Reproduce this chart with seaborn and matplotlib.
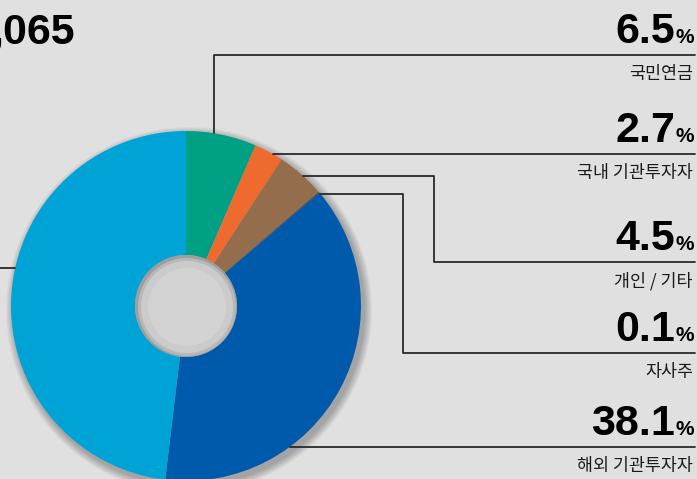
import numpy as np
import matplotlib
matplotlib.use("Agg")
import matplotlib.pyplot as plt
import seaborn as sns
from matplotlib.patches import Circle

# --- data ---
holders = ["국민연금", "국내 기관투자자", "개인 / 기타", "자사주", "해외 기관투자자", "기타(좌측)"]
shares = [6.5, 2.7, 4.5, 0.1, 38.1, 48.1]
labelled = ["6.5", "2.7", "4.5", "0.1", "38.1"]
colors = ["#00a085", "#ee6a2e", "#946d4c", "#4a3e38", "#005aab", "#00a3d5"]
top_text = ",065"

sns.set_theme(style="white")
plt.rcParams["font.family"] = ["Noto Sans CJK KR", "DejaVu Sans"]
num_font = ["Liberation Sans", "DejaVu Sans"]

W, H = 697, 479
bg = "#e0e0e0"
fig = plt.figure(figsize=(W / 100, H / 100), dpi=100, facecolor=bg)
ax = fig.add_axes([0, 0, 1, 1])

def py(y):
    # pixel row (from top) -> data y
    return H - y

cx, cy, R, r_hole = 186, 306, 175, 51

# soft shadow behind the pie
for i in range(8):
    ax.add_patch(Circle((cx + 3, py(cy + 4)), R + 1 + i, color="black",
                        alpha=0.035, lw=0, zorder=1))

ax.pie(shares, colors=colors, startangle=90, counterclock=False,
       center=(cx, py(cy)), radius=R, frame=True,
       wedgeprops=dict(width=R - r_hole, linewidth=0, zorder=2))
ax.set_xlim(0, W)
ax.set_ylim(0, H)
ax.set_aspect("equal")
ax.axis("off")

# hole with inner shading
ax.add_patch(Circle((cx, py(cy)), r_hole, color="#9e9e9e", lw=0, zorder=3))
ax.add_patch(Circle((cx + 1, py(cy + 1)), r_hole - 2, color="#b8b8b8", lw=0, zorder=3))
ax.add_patch(Circle((cx + 1, py(cy + 1)), r_hole - 5, color="#cbcbcb", lw=0, zorder=3))
ax.add_patch(Circle((cx + 1, py(cy + 1)), r_hole - 12, color="#d3d3d3", lw=0, zorder=3))

def edge_x(y):
    return cx + np.sqrt(R ** 2 - (y - cy) ** 2)

def edge_y_top(x):
    return cy - np.sqrt(R ** 2 - (x - cx) ** 2)

lw, lc, right = 1.3, "#2a2a2a", 695

# leader lines (pixel rows)
ax.plot([214, 214, right], [py(edge_y_top(214)), py(55), py(55)], color=lc, lw=lw, zorder=4)
ax.plot([edge_x(154), right], [py(154), py(154)], color=lc, lw=lw, zorder=4)
ax.plot([edge_x(176), 434, 434, right], [py(176), py(176), py(262), py(262)], color=lc, lw=lw, zorder=4)
ax.plot([edge_x(194), 403, 403, right], [py(194), py(194), py(353), py(353)], color=lc, lw=lw, zorder=4)
ax.plot([edge_x(447), right], [py(447), py(447)], color=lc, lw=lw, zorder=4)
ax.plot([0, cx - np.sqrt(R ** 2 - 38 ** 2)], [py(268), py(268)], color=lc, lw=lw, zorder=4)

# labels: number baseline row, line row
line_rows = [55, 154, 262, 353, 447]
for val, name, row in zip(labelled, holders[:5], line_rows):
    ax.text(675, py(row - 12), val, ha="right", va="baseline", fontsize=31,
            fontweight="bold", family=num_font, color="black", zorder=5)
    ax.text(694, py(row - 12), "%", ha="right", va="baseline", fontsize=15,
            fontweight="bold", family=num_font, color="black", zorder=5)
    ax.text(693, py(row + 10), name, ha="right", va="top", fontsize=12.5,
            color="#1a1a1a", zorder=5)

ax.text(75, py(43), top_text, ha="right", va="baseline", fontsize=31,
        fontweight="bold", family=num_font, color="black", zorder=5)

fig.savefig("out.png", dpi=100, facecolor=bg)
